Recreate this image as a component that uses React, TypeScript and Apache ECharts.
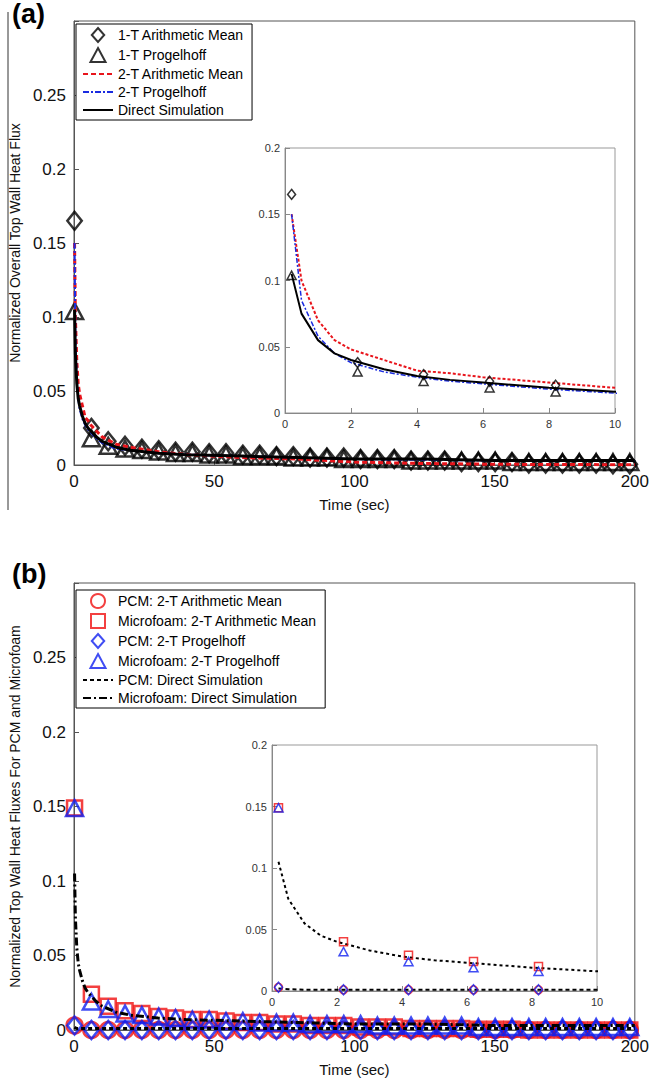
import React, { useEffect, useRef } from 'react';
import * as echarts from 'echarts';

// marker sample times (main plots) and inset sample times
const markT = [0.2, 6.2, 12.2, 18.2, 24.2, 30.2, 36.2, 42.2, 48.2, 54.2, 60.2, 66.2, 72.2, 78.2, 84.2, 90.2, 96.2, 102.2, 108.2, 114.2, 120.2, 126.2, 132.2, 138.2, 144.2, 150.2, 156.2, 162.2, 168.2, 174.2, 180.2, 186.2, 192.2, 198.2];
const insetT = [0.2, 2.2, 4.2, 6.2, 8.2];
const lineT = [0.2, 0.5, 1, 1.5, 2, 3, 4, 5, 6, 8, 10, 15, 20, 30, 40, 60, 80, 100, 125, 150, 175, 200];

// (a)
const arith1T = [0.165, 0.025, 0.016, 0.013, 0.011, 0.010, 0.009, 0.009, 0.008, 0.008, 0.007, 0.007, 0.006, 0.006, 0.005, 0.005, 0.005, 0.004, 0.004, 0.004, 0.003, 0.003, 0.003, 0.002, 0.002, 0.002, 0.002, 0.001, 0.001, 0.001, 0.001, 0.001, 0.0005, 0.0005];
const prog1T = [0.104, 0.018, 0.013, 0.011, 0.010, 0.009, 0.008, 0.008, 0.007, 0.007, 0.006, 0.006, 0.006, 0.005, 0.005, 0.005, 0.004, 0.004, 0.004, 0.004, 0.003, 0.003, 0.003, 0.003, 0.003, 0.003, 0.002, 0.002, 0.002, 0.002, 0.002, 0.002, 0.002, 0.002];
const arith2T = [0.15, 0.1, 0.07, 0.055, 0.048, 0.04, 0.032, 0.03, 0.027, 0.023, 0.019, 0.014, 0.012, 0.009, 0.007, 0.005, 0.004, 0.002, 0.001, 0.0005, 0.0003, 0.0002];
const prog2T = [0.15, 0.085, 0.058, 0.045, 0.038, 0.031, 0.027, 0.024, 0.022, 0.018, 0.015, 0.011, 0.01, 0.008, 0.007, 0.006, 0.005, 0.004, 0.0035, 0.003, 0.003, 0.003];
const direct = [0.105, 0.075, 0.055, 0.045, 0.04, 0.033, 0.028, 0.025, 0.023, 0.019, 0.016, 0.012, 0.01, 0.008, 0.007, 0.006, 0.005, 0.004, 0.004, 0.003, 0.003, 0.003];
const insetArith1T = [0.165, 0.038, 0.029, 0.024, 0.021];
const insetProg1T = [0.104, 0.031, 0.024, 0.019, 0.016];

// (b)
const pcmArith = [0.003, 0, 0, 0, 0, 0, 0, 0, 0, 0, 0, 0, 0, 0, 0, 0, 0, 0, 0, 0, 0, 0, 0, 0, 0, 0, 0, 0, 0, 0, 0, 0, 0, 0];
const mfArith = [0.149, 0.024, 0.016, 0.013, 0.011, 0.009, 0.008, 0.007, 0.007, 0.006, 0.005, 0.005, 0.004, 0.004, 0.003, 0.003, 0.003, 0.002, 0.002, 0.002, 0.001, 0.001, 0.001, 0.001, 0.0005, 0.0005, 0.0005, 0, 0, 0, 0, 0, 0, 0];
const pcmProg = [0.003, 0, 0, 0, 0, 0, 0, 0, 0, 0, 0, 0, 0, 0, 0, 0, 0, 0, 0, 0, 0, 0, 0, 0, 0, 0, 0, 0, 0, 0, 0, 0, 0, 0];
const mfProg = [0.149, 0.019, 0.014, 0.011, 0.01, 0.009, 0.008, 0.007, 0.007, 0.006, 0.006, 0.005, 0.005, 0.005, 0.004, 0.004, 0.004, 0.004, 0.003, 0.003, 0.003, 0.003, 0.003, 0.003, 0.002, 0.002, 0.002, 0.002, 0.002, 0.002, 0.002, 0.002, 0.002, 0.002];
const pcmDirect = [0.002, 0.0015, 0.001, 0.001, 0.001, 0.001, 0.001, 0.001, 0.001, 0.001, 0.001, 0.001, 0.001, 0.001, 0.001, 0.001, 0.001, 0.001, 0.001, 0.001, 0.001, 0.001];
const insetMfArith = [0.149, 0.04, 0.029, 0.024, 0.02];
const insetMfProg = [0.149, 0.032, 0.024, 0.019, 0.016];
const insetPcm = [0.003, 0.001, 0.001, 0.001, 0.001];

const FONT = 'Liberation Sans';
const SYM: Record<string, string> = {
  diamond: 'path://M8,0 L16,9 L8,18 L0,9 Z',
  triangle: 'path://M7,0 L14,13 L0,13 Z',
  circle: 'circle',
  rect: 'path://M0,0 L12,0 L12,12 L0,12 Z',
};
const pair = (xs: number[], ys: number[]) => xs.map((x, i) => [x, ys[i]]);

const mainX = (gi: number) => ({
  gridIndex: gi, type: 'value', min: 0, max: 200, interval: 50,
  splitLine: { show: false },
  axisLine: { lineStyle: { color: '#555' } },
  axisTick: { inside: true, lineStyle: { color: '#555' } },
  axisLabel: { fontFamily: FONT, fontSize: 17, color: '#111', margin: 8 },
  name: 'Time (sec)', nameLocation: 'middle', nameGap: 32,
  nameTextStyle: { fontFamily: FONT, fontSize: 15, color: '#111' },
});
const mainY = (gi: number, name: string) => ({
  gridIndex: gi, type: 'value', min: 0, max: 0.3, interval: 0.05,
  splitLine: { show: false },
  axisLine: { lineStyle: { color: '#555' } },
  axisTick: { inside: true, lineStyle: { color: '#555' } },
  axisLabel: { fontFamily: FONT, fontSize: 17, color: '#111', formatter: (v: number) => (v > 0.29 ? '' : String(+v.toFixed(2))) },
  name, nameLocation: 'middle', nameGap: 52,
  nameTextStyle: { fontFamily: FONT, fontSize: 14, color: '#111' },
});
const insetX = (gi: number) => ({
  gridIndex: gi, type: 'value', min: 0, max: 10, interval: 2,
  splitLine: { show: false },
  axisLine: { lineStyle: { color: '#888' } },
  axisTick: { inside: true, lineStyle: { color: '#888' } },
  axisLabel: { fontFamily: FONT, fontSize: 11, color: '#333', margin: 5 },
});
const insetY = (gi: number) => ({
  gridIndex: gi, type: 'value', min: 0, max: 0.2, interval: 0.05,
  splitLine: { show: false },
  axisLine: { lineStyle: { color: '#888' } },
  axisTick: { inside: true, lineStyle: { color: '#888' } },
  axisLabel: { fontFamily: FONT, fontSize: 11, color: '#333', margin: 5, formatter: (v: number) => String(+v.toFixed(2)) },
});

const scat = (name: string, xi: number, data: number[][], symbol: string, color: string, size: number, z = 3) => ({
  name, type: 'scatter', xAxisIndex: xi, yAxisIndex: xi, data, symbol: SYM[symbol], symbolKeepAspect: true,
  symbolSize: symbol === 'diamond' ? [size * 0.9, size] : size, z,
  itemStyle: { color: 'rgba(255,255,255,0)', borderColor: color, borderWidth: size > 10 ? 2.5 : 1.5 },
});
const line = (name: string, xi: number, data: number[][], color: string, type: any, width: number, z = 4) => ({
  name, type: 'line', xAxisIndex: xi, yAxisIndex: xi, data, showSymbol: false, symbol: 'none', z,
  lineStyle: { color, type, width }, itemStyle: { color },
});
const lineItem = (name: string) => ({ name, itemStyle: { opacity: 0 } });

const App: React.FC = () => {
  const ref = useRef<HTMLDivElement>(null);
  useEffect(() => {
    const chart = echarts.init(ref.current!, undefined, { renderer: 'svg' });
    const grid = (left: number, top: number, width: number, height: number, c: string) => ({
      left, top, width, height, show: true, borderColor: c, borderWidth: 1, backgroundColor: '#fff',
    });
    const legendBase = {
      orient: 'vertical', itemGap: 4, itemWidth: 30, itemHeight: 14,
      borderColor: '#000', borderWidth: 1, backgroundColor: '#fff', padding: [3, 8, 3, 6],
      textStyle: { fontFamily: FONT, fontSize: 14, color: '#000' },
    };
    chart.setOption({
      animation: false,
      backgroundColor: '#fff',
      grid: [
        grid(70, 21, 570, 444, '#555'),
        grid(285, 148, 330, 265, '#999'),
        grid(70, 583, 570, 447, '#555'),
        grid(272, 745, 325, 246, '#999'),
      ],
      xAxis: [mainX(0), insetX(1), mainX(2), insetX(3)],
      yAxis: [
        mainY(0, 'Normalized Overall Top Wall Heat Flux'), insetY(1),
        mainY(2, 'Normalized Top Wall Heat Fluxes For PCM and Microfoam'), insetY(3),
      ],
      legend: [
        {
          ...legendBase, left: 76, top: 24,
          data: ['1-T Arithmetic Mean', '1-T Progelhoff', lineItem('2-T Arithmetic Mean'), lineItem('2-T Progelhoff'), lineItem('Direct Simulation')],
        },
        {
          ...legendBase, left: 76, top: 590,
          data: ['PCM: 2-T Arithmetic Mean', 'Microfoam: 2-T Arithmetic Mean', 'PCM: 2-T Progelhoff', 'Microfoam: 2-T Progelhoff', lineItem('PCM: Direct Simulation'), lineItem('Microfoam: Direct Simulation')],
        },
      ],
      graphic: [
        { type: 'text', left: 12, top: 0, style: { text: '(a)', fontFamily: FONT, fontSize: 27, fontWeight: 'bold', fill: '#000' } },
        { type: 'text', left: 12, top: 560, style: { text: '(b)', fontFamily: FONT, fontSize: 27, fontWeight: 'bold', fill: '#000' } },
        { type: 'line', shape: { x1: 8, y1: 12, x2: 8, y2: 510 }, style: { stroke: '#333', lineWidth: 1 } },
      ],
      series: [
        // (a) main
        scat('1-T Arithmetic Mean', 0, pair(markT, arith1T), 'diamond', '#000', 18),
        scat('1-T Progelhoff', 0, pair(markT, prog1T), 'triangle', '#000', 17),
        line('2-T Arithmetic Mean', 0, pair(lineT, arith2T), '#e8141b', [5, 3], 3),
        line('2-T Progelhoff', 0, pair(lineT, prog2T), '#1a2be0', [6, 2, 2, 2], 2),
        line('Direct Simulation', 0, pair(lineT, direct), '#000', 'solid', 3),
        // (a) inset
        scat('1-T Arithmetic Mean i', 1, pair(insetT, insetArith1T), 'diamond', '#000', 10, 6),
        scat('1-T Progelhoff i', 1, pair(insetT, insetProg1T), 'triangle', '#000', 9, 6),
        line('2-T Arithmetic Mean i', 1, pair(lineT, arith2T), '#e8141b', [3, 2], 2),
        line('2-T Progelhoff i', 1, pair(lineT, prog2T), '#1a2be0', [5, 2, 2, 2], 1.5),
        line('Direct Simulation i', 1, pair(lineT, direct), '#000', 'solid', 2),
        // (b) main
        scat('PCM: 2-T Arithmetic Mean', 2, pair(markT, pcmArith), 'circle', '#f01010', 16),
        scat('Microfoam: 2-T Arithmetic Mean', 2, pair(markT, mfArith), 'rect', '#f01010', 15),
        scat('PCM: 2-T Progelhoff', 2, pair(markT, pcmProg), 'diamond', '#1020f0', 18),
        scat('Microfoam: 2-T Progelhoff', 2, pair(markT, mfProg), 'triangle', '#1020f0', 17),
        line('PCM: Direct Simulation', 2, pair(lineT, pcmDirect), '#000', [4, 3], 3, 5),
        line('Microfoam: Direct Simulation', 2, pair(lineT, direct), '#000', [8, 3, 2, 3], 3, 5),
        // (b) inset
        scat('PCM: 2-T Arithmetic Mean i', 3, pair(insetT, insetPcm), 'circle', '#f01010', 8, 6),
        scat('Microfoam: 2-T Arithmetic Mean i', 3, pair(insetT, insetMfArith), 'rect', '#f01010', 8, 6),
        scat('PCM: 2-T Progelhoff i', 3, pair(insetT, insetPcm), 'diamond', '#1020f0', 10, 6),
        scat('Microfoam: 2-T Progelhoff i', 3, pair(insetT, insetMfProg), 'triangle', '#1020f0', 9, 6),
        line('PCM: Direct Simulation i', 3, pair(lineT, pcmDirect), '#000', [4, 3], 2, 5),
        line('Microfoam: Direct Simulation i', 3, pair(lineT, direct), '#000', [3, 3], 2, 5),
      ],
    });
    return () => chart.dispose();
  }, []);
  return <div ref={ref} style={{ position: 'absolute', left: 0, top: 0, width: 652, height: 1083 }} />;
};

export default App;
